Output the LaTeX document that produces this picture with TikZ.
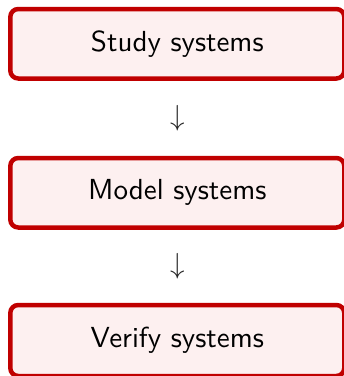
\documentclass[tikz,border=0pt]{standalone}
\usepackage{fix-cm}
\usepackage{fontspec}
\newfontfamily\stagefont{lmsans10-regular.otf}
\usetikzlibrary{calc}
\begin{document}
\begin{tikzpicture}[x=1pt,y=1pt,
  stagebox/.style={draw=boxred, fill=boxfill, line width=4.5pt, rounded corners=8pt,
    minimum width=334pt, minimum height=69.5pt, inner sep=0pt,
    font=\fontsize{29}{35}\selectfont\stagefont, text=black},
  flowarrow/.style={inner sep=0pt, font=\fontsize{29}{35}\selectfont, text=black!85}]
  \definecolor{boxred}{RGB}{192,0,0}
  \definecolor{boxfill}{RGB}{253,240,240}
  \useasboundingbox (0,0) rectangle (344,-376);
  % three stages, top to bottom
  \node[stagebox] (study)  at (177.3,-43.75)  {Study systems};
  \node[stagebox] (model)  at (177.3,-192.75) {Model systems};
  \node[stagebox, minimum height=71pt] (verify) at (177.3,-340.5) {Verify systems};
  % downward arrows placed halfway between the stages
  \node[flowarrow] (a1) at ($(study.south)!0.5!(model.north)+(0.5,0)$) {$\downarrow$};
  \node[flowarrow] (a2) at ($(model.south)!0.5!(verify.north)+(0.5,0)$) {$\downarrow$};
\end{tikzpicture}
\end{document}
